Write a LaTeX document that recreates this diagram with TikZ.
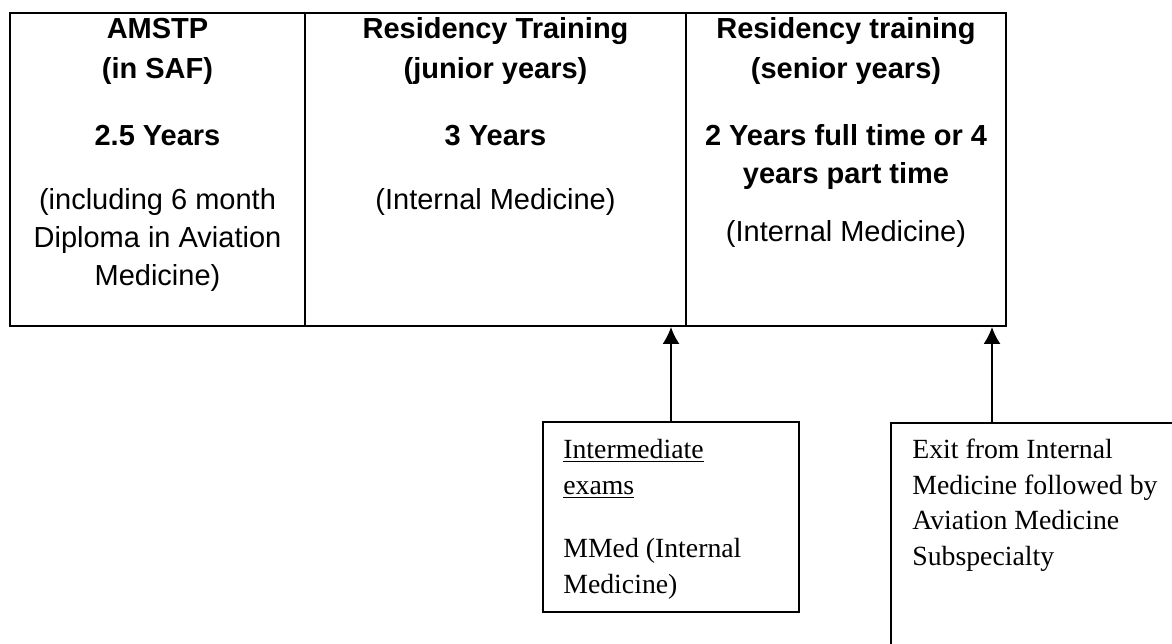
\documentclass[tikz,border=0pt]{standalone}
\usepackage{fontspec}
\usetikzlibrary{arrows.meta}
\newfontfamily\arialfont{Liberation Sans}
\newfontfamily\cambriafont{Liberation Serif}
\tikzset{
  cell/.style={draw, line width=1.1pt, minimum height=6.26cm, inner sep=0pt},
  exambox/.style={draw, line width=1.1pt, inner sep=0pt},
  toptext/.style={anchor=base, inner sep=0pt, font=\arialfont\fontsize{16.5}{21.6}\selectfont},
  bottext/.style={anchor=base west, inner sep=0pt, font=\cambriafont\fontsize{15.8}{20.4}\selectfont},
  up/.style={line width=1.1pt, -{Latex[length=0.34cm,width=0.34cm]}}
}

\begin{document}
\begin{tikzpicture}[x=0.02cm, y=0.02cm]
\useasboundingbox (0,0) rectangle (1172,644);
\clip (0,0) rectangle (1172,644);
\node[cell, minimum width=5.9cm] (AMSTP) at (157.5,474.5) {};
\node[cell, minimum width=7.62cm] (Junior) at (495.5,474.5) {};
\node[cell, minimum width=6.4cm] (Senior) at (846,474.5) {};
\node[toptext] (AMSTPlbl) at (157.5,605) {\begin{tabular}[t]{@{}c@{}}\textbf{AMSTP}\\[1.1pt] \textbf{(in SAF)}\\[16.5pt] \textbf{2.5 Years}\\[14.8pt] (including 6 month\\ Diploma in Aviation\\ Medicine)\end{tabular}};
\node[toptext] (Juniorlbl) at (495.5,605) {\begin{tabular}[t]{@{}c@{}}\textbf{Residency Training}\\[1.1pt] \textbf{(junior years)}\\[16.5pt] \textbf{3 Years}\\[14.8pt] (Internal Medicine)\end{tabular}};
\node[toptext] (Seniorlbl) at (846,605) {\begin{tabular}[t]{@{}c@{}}\textbf{Residency training}\\[1.1pt] \textbf{(senior years)}\\[16.5pt] \textbf{2 Years full time or 4}\\ \textbf{years part time}\\[11.4pt] (Internal Medicine)\end{tabular}};
\node[exambox, minimum width=5.13cm, minimum height=3.81cm] (Exam) at (671,127) {};
\node[exambox, minimum width=5.98cm, minimum height=4.83cm] (Exit) at (1040.5,100.65) {};
\node[bottext] (Examlbl) at (563,185.7) {\begin{tabular}[t]{@{}l@{}}\underline{Intermediate}\\ \underline{exams}\\[15.7pt] MMed (Internal\\ Medicine)\end{tabular}};
\node[bottext] (Exitlbl) at (912,185.7) {\begin{tabular}[t]{@{}l@{}}Exit from Internal\\ Medicine followed by\\ Aviation Medicine\\ Subspecialty\end{tabular}};
\coordinate (ExitTop) at (992,0 |- Exit.north);
\draw[up] (Exam.north) -- (Exam.north |- Junior.south);
\draw[up] (ExitTop) -- (ExitTop |- Senior.south);
\end{tikzpicture}
\end{document}
